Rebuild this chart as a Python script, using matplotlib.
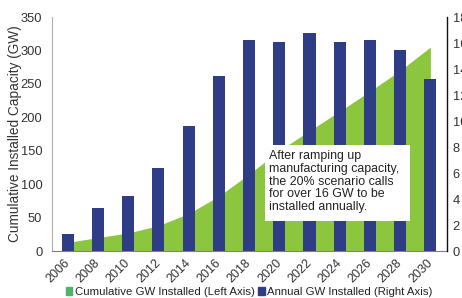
import matplotlib
matplotlib.use("Agg")
import matplotlib.pyplot as plt
from matplotlib.patches import Patch, Rectangle
from matplotlib.transforms import ScaledTranslation

plt.rcParams['font.family'] = ['Liberation Sans', 'DejaVu Sans']

years = [2006, 2008, 2010, 2012, 2014, 2016, 2018, 2020, 2022, 2024, 2026, 2028, 2030]
cumulative_gw = [13, 20, 27, 38, 56, 82, 115, 150, 180, 209, 239, 270, 305]
annual_gw = [1.3, 3.3, 4.2, 6.4, 9.6, 13.5, 16.2, 16.1, 16.8, 16.1, 16.2, 15.5, 13.2]
tick_labels = [str(y) for y in years]

GREEN = '#8cc63f'
NAVY = '#2e3d86'

fig = plt.figure(figsize=(4.62, 2.98), dpi=100)
ax = fig.add_axes([52/462, 1-251/298, (447-52)/462, (251-17)/298])
ax2 = ax.twinx()

ax.fill_between(years, 0, cumulative_gw, color=GREEN, lw=0, zorder=1)
ax.set_ylim(0, 350)
ax.set_xlim(2004.96, 2031.1)
ax.set_yticks(range(0, 351, 50))
ax.set_xticks(years)
ax.set_xticklabels(tick_labels, rotation=45, ha='right', rotation_mode='anchor', fontsize=9, color='#333333')
ax.tick_params(axis='x', length=0, pad=4)
ax.tick_params(axis='y', length=0, pad=7, labelsize=9.3, labelcolor='#333333')
ax.set_ylabel('Cumulative Installed Capacity (GW)', fontsize=9.8, color='#333333')
ax.yaxis.set_label_coords(-0.077, 0.5)
for lbl in ax.get_xticklabels():
    lbl.set_transform(lbl.get_transform() + ScaledTranslation(-4/100, 0, fig.dpi_scale_trans))

ax2.bar(years, annual_gw, width=0.8, color=NAVY, zorder=2)
ax2.set_ylim(0, 18)
ax2.set_yticks(range(0, 19, 2))
ax2.tick_params(axis='y', length=0, pad=4, labelsize=9.3, labelcolor='#333333')

for a in (ax, ax2):
    a.spines['top'].set_visible(False)
ax.spines['left'].set_color('#b0b0b0')
ax.spines['bottom'].set_color('#808080')
ax.spines['right'].set_visible(False)
ax2.spines['left'].set_visible(False)
ax2.spines['bottom'].set_visible(False)
ax2.spines['right'].set_color('#111111')
ax2.spines['right'].set_linewidth(1.0)

# annotation box
box = Rectangle((2019.07, 2.31), 9.6, 5.84, facecolor='white', edgecolor='none', zorder=4)
ax2.add_patch(box)
ax2.text(2019.3, 7.75,
         'After ramping up\nmanufacturing capacity,\nthe 20% scenario calls\nfor over 16 GW to be\ninstalled annually.',
         fontsize=8.9, color='#222222', ha='left', va='top', linespacing=1.08, zorder=5)

handles = [Patch(color='#4cb36a', label='Cumulative GW Installed (Left Axis)'),
           Patch(color=NAVY, label='Annual GW Installed (Right Axis)')]
fig.legend(handles=handles, loc='center', bbox_to_anchor=(249/462, 1-292/298), ncol=2,
           frameon=False, fontsize=8.2, handlelength=0.6, handleheight=0.6,
           handletextpad=0.2, columnspacing=0.3, labelcolor='#222222')

fig.savefig('out.png', dpi=100)
